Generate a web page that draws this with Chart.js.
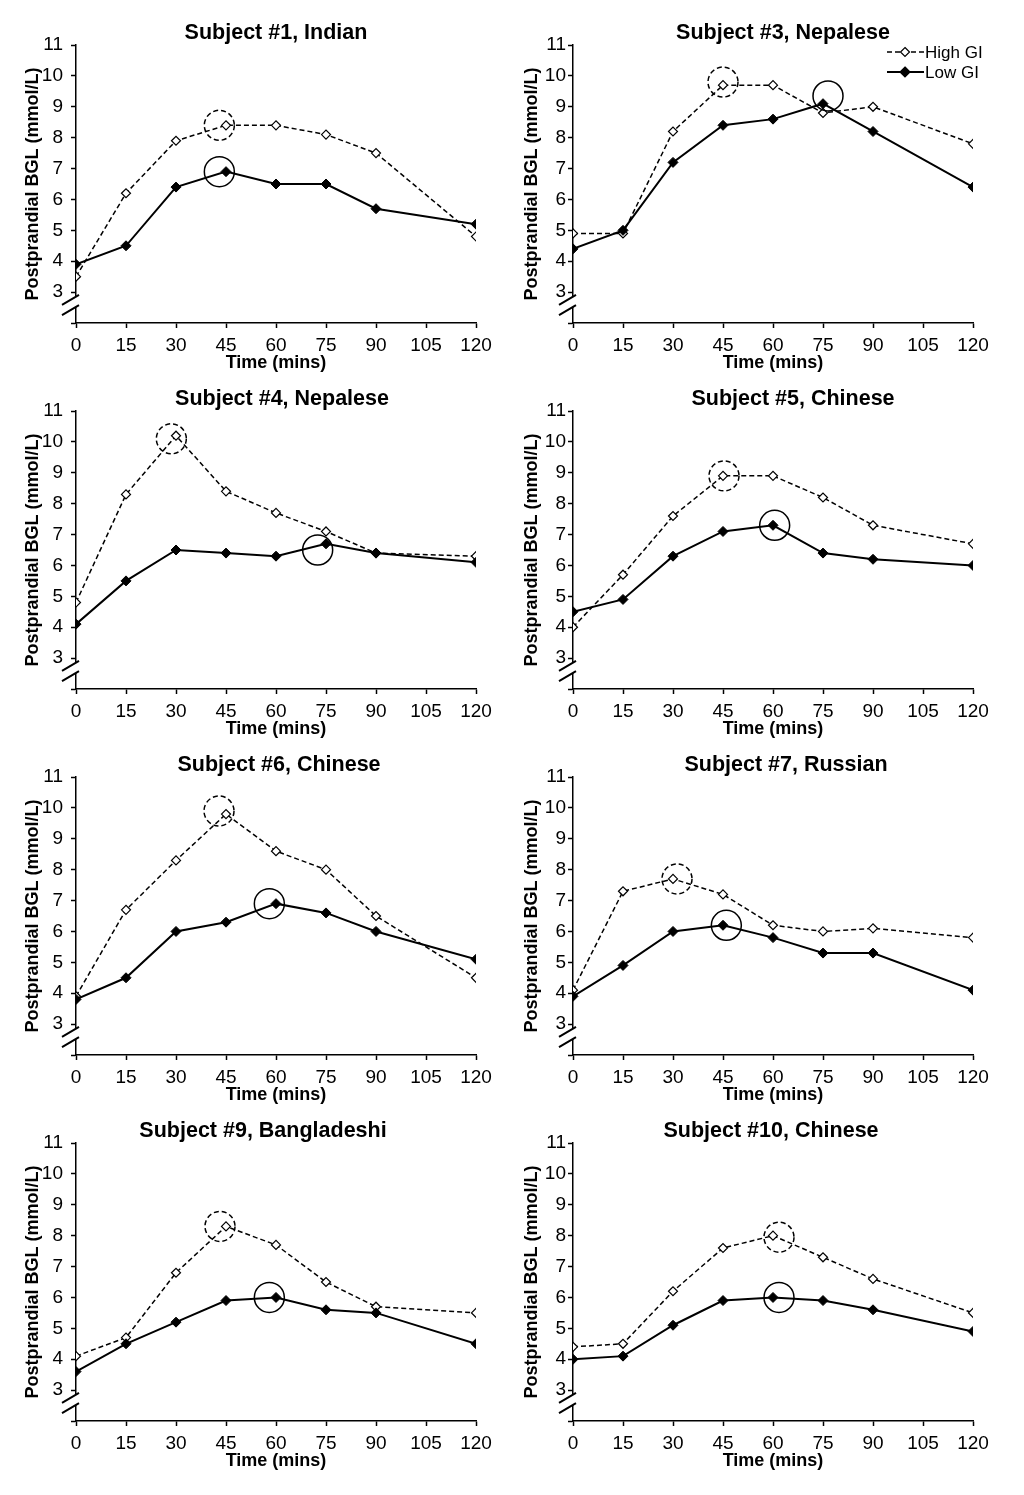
<!DOCTYPE html>
<html lang="en">
<head>
<meta charset="UTF-8">
<title>Postprandial BGL, High GI vs Low GI</title>
<script src="https://cdn.jsdelivr.net/npm/chart.js"></script>
<style>
  body { margin: 0; background: #fff; }
  #wrap { position: relative; width: 1024px; height: 1495px; background: #fff; overflow: hidden; }
  #wrap canvas { position: absolute; }
</style>
</head>
<body>
<div id="wrap"></div>
<script>
// sampling times (mins)
const times = [0, 15, 30, 45, 60, 75, 90, 120];
const xTicks = [0, 15, 30, 45, 60, 75, 90, 105, 120];
const yTicks = [2, 3, 4, 5, 6, 7, 8, 9, 10, 11];

const titles = [
  'Subject #1, Indian', 'Subject #3, Nepalese',
  'Subject #4, Nepalese', 'Subject #5, Chinese',
  'Subject #6, Chinese', 'Subject #7, Russian',
  'Subject #9, Bangladeshi', 'Subject #10, Chinese'
];

// BGL in mmol/L, one row per subject
const highGI = [
  [3.5, 6.2, 7.9, 8.4, 8.4, 8.1, 7.5, 4.8],
  [4.9, 4.9, 8.2, 9.7, 9.7, 8.8, 9.0, 7.8],
  [4.8, 8.3, 10.2, 8.4, 7.7, 7.1, 6.4, 6.3],
  [4.0, 5.7, 7.6, 8.9, 8.9, 8.2, 7.3, 6.7],
  [3.9, 6.7, 8.3, 9.8, 8.6, 8.0, 6.5, 4.5],
  [4.1, 7.3, 7.7, 7.2, 6.2, 6.0, 6.1, 5.8],
  [4.1, 4.7, 6.8, 8.3, 7.7, 6.5, 5.7, 5.5],
  [4.4, 4.5, 6.2, 7.6, 8.0, 7.3, 6.6, 5.5]
];
const lowGI = [
  [3.9, 4.5, 6.4, 6.9, 6.5, 6.5, 5.7, 5.2],
  [4.4, 5.0, 7.2, 8.4, 8.6, 9.1, 8.2, 6.4],
  [4.1, 5.5, 6.5, 6.4, 6.3, 6.7, 6.4, 6.1],
  [4.5, 4.9, 6.3, 7.1, 7.3, 6.4, 6.2, 6.0],
  [3.8, 4.5, 6.0, 6.3, 6.9, 6.6, 6.0, 5.1],
  [3.9, 4.9, 6.0, 6.2, 5.8, 5.3, 5.3, 4.1],
  [3.6, 4.5, 5.2, 5.9, 6.0, 5.6, 5.5, 4.5],
  [4.0, 4.1, 5.1, 5.9, 6.0, 5.9, 5.6, 4.9]
];

// peak rings (centre in data units)
const highPeakX = [43, 45, 28.6, 45.3, 42.9, 31.2, 43.2, 61.8];
const highPeakY = [8.4, 9.8, 10.1, 8.9, 9.9, 7.7, 8.3, 7.95];
const lowPeakX = [43, 76.5, 72.5, 60.5, 58, 46, 58, 61.8];
const lowPeakY = [6.9, 9.35, 6.5, 7.3, 6.9, 6.2, 6.0, 6.0];

// the titles are not quite centred over the plot in the original
const titleShift = [0, 10, 6, 20, 3, 13, -13, -2];

const FONT = '"Liberation Sans", Arial, sans-serif';
Chart.defaults.font.family = FONT;
Chart.defaults.color = '#000';

function diamond(ctx, cx, cy, r, fill) {
  ctx.beginPath();
  ctx.moveTo(cx, cy - r);
  ctx.lineTo(cx + r, cy);
  ctx.lineTo(cx, cy + r);
  ctx.lineTo(cx - r, cy);
  ctx.closePath();
  ctx.fillStyle = fill;
  ctx.fill();
  ctx.lineWidth = 1.2;
  ctx.strokeStyle = '#000';
  ctx.stroke();
}

const extras = {
  id: 'extras',
  afterDatasetsDraw(chart, args, opts) {
    const ctx = chart.ctx;
    const xs = chart.scales.x, ys = chart.scales.y;
    const i = opts.index;
    ctx.save();
    ctx.strokeStyle = '#000';
    ctx.lineWidth = 1.5;
    ctx.setLineDash([5, 3]);
    ctx.beginPath();
    ctx.arc(xs.getPixelForValue(highPeakX[i]), ys.getPixelForValue(highPeakY[i]), 15, 0, Math.PI * 2);
    ctx.stroke();
    ctx.setLineDash([]);
    ctx.beginPath();
    ctx.arc(xs.getPixelForValue(lowPeakX[i]), ys.getPixelForValue(lowPeakY[i]), 15, 0, Math.PI * 2);
    ctx.stroke();
    ctx.restore();
  },
  afterDraw(chart, args, opts) {
    const ctx = chart.ctx;
    const area = chart.chartArea;
    const ys = chart.scales.y;
    const x = area.left;
    const yU = ys.getPixelForValue(2.75), yL = ys.getPixelForValue(2.42);
    ctx.save();

    // panel title
    ctx.fillStyle = '#000';
    ctx.font = 'bold 21.5px ' + FONT;
    ctx.textAlign = 'center';
    ctx.textBaseline = 'middle';
    ctx.fillText(titles[opts.index], (area.left + area.right) / 2 + titleShift[opts.index], 33);

    // axis break "//"
    ctx.fillStyle = '#fff';
    ctx.beginPath();
    ctx.moveTo(x - 14, yU + 5);
    ctx.lineTo(x + 3, yU - 5);
    ctx.lineTo(x + 3, yL - 5);
    ctx.lineTo(x - 14, yL + 5);
    ctx.closePath();
    ctx.fill();
    ctx.strokeStyle = '#000';
    ctx.lineWidth = 2;
    ctx.beginPath();
    ctx.moveTo(x - 14, yU + 5); ctx.lineTo(x + 3, yU - 5);
    ctx.moveTo(x - 14, yL + 5); ctx.lineTo(x + 3, yL - 5);
    ctx.stroke();

    if (opts.legend) {
      const rows = [['High GI', 52, true], ['Low GI', 72, false]];
      ctx.font = '17px ' + FONT;
      ctx.textAlign = 'left';
      ctx.textBaseline = 'middle';
      rows.forEach(([txt, y, open]) => {
        ctx.strokeStyle = '#000';
        ctx.lineWidth = open ? 1.5 : 2;
        ctx.setLineDash(open ? [5, 3] : []);
        ctx.beginPath();
        ctx.moveTo(375, y); ctx.lineTo(412, y);
        ctx.stroke();
        ctx.setLineDash([]);
        diamond(ctx, 393, y, open ? 4.5 : 5, open ? '#fff' : '#000');
        ctx.fillStyle = '#000';
        ctx.fillText(txt, 413, y + 1);
      });
    }
    ctx.restore();
  }
};

const wrap = document.getElementById('wrap');

function makeChart(i) {
  const col = i % 2, row = Math.floor(i / 2);
  const canvas = document.createElement('canvas');
  canvas.width = 512; canvas.height = 380;
  canvas.style.left = (col * 512) + 'px';
  canvas.style.top = (row * 366) + 'px';
  canvas.style.width = '512px';
  canvas.style.height = '380px';
  wrap.appendChild(canvas);

  const axisW = col === 0 ? 76 : 61;
  const tickStyle = { drawOnChartArea: false, drawTicks: true, tickLength: 5, tickColor: '#000', tickWidth: 1.5 };

  new Chart(canvas, {
    type: 'line',
    data: {
      datasets: [
        {
          label: 'Low GI',
          data: times.map((t, k) => ({ x: t, y: lowGI[i][k] })),
          borderColor: '#000', borderWidth: 2,
          pointStyle: 'rectRot', pointRadius: 5,
          pointBackgroundColor: '#000', pointBorderColor: '#000', pointBorderWidth: 1,
          order: 0
        },
        {
          label: 'High GI',
          data: times.map((t, k) => ({ x: t, y: highGI[i][k] })),
          borderColor: '#000', borderWidth: 1.5, borderDash: [5, 3],
          pointStyle: 'rectRot', pointRadius: 4.5,
          pointBackgroundColor: '#fff', pointBorderColor: '#000', pointBorderWidth: 1.2,
          order: 1
        }
      ]
    },
    options: {
      responsive: false,
      animation: false,
      layout: { padding: { left: 0, right: 512 - axisW - 400, top: 45, bottom: 0 } },
      plugins: {
        legend: { display: false },
        tooltip: { enabled: false },
        title: { display: false },
        extras: { index: i, legend: i === 1 }
      },
      scales: {
        x: {
          type: 'linear', min: 0, max: 120,
          afterBuildTicks: s => { s.ticks = xTicks.map(v => ({ value: v })); },
          afterFit: s => { s.height = 57; },
          grid: tickStyle,
          border: { color: '#000', width: 1.5 },
          ticks: { color: '#000', font: { size: 19 }, padding: 6, maxRotation: 0, autoSkip: false },
          title: { display: true, text: 'Time (mins)', color: '#000', font: { size: 18, weight: 'bold' }, padding: { top: 0, bottom: 5.7 } }
        },
        y: {
          min: 2, max: 11,
          afterBuildTicks: s => { s.ticks = yTicks.map(v => ({ value: v })); },
          afterFit: s => { s.width = axisW; },
          grid: tickStyle,
          border: { color: '#000', width: 1.5 },
          ticks: { color: '#000', font: { size: 19 }, padding: col === 0 ? 8 : 2, callback: v => (v === 2 ? '' : v) },
          title: { display: true, text: 'Postprandial BGL (mmol/L)', color: '#000', font: { size: 18, weight: 'bold' }, padding: { top: col === 0 ? 22.2 : 9.7, bottom: 0 } }
        }
      }
    },
    plugins: [extras]
  });
}

for (let i = 0; i < 8; i++) makeChart(i);
</script>
</body>
</html>
